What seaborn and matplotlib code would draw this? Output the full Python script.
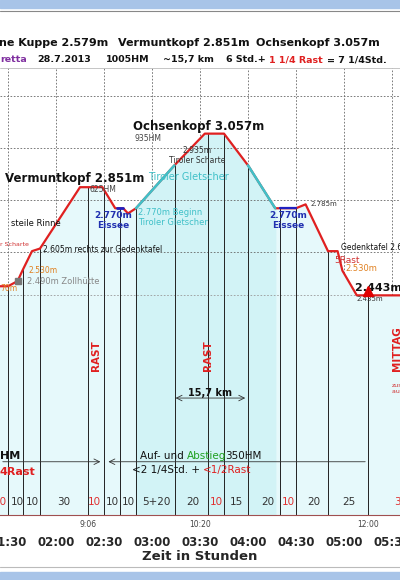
import numpy as np
import pandas as pd
import seaborn as sns
from matplotlib import pyplot as plt

# profile: minutes since 00:00 and elevation in m
prof_t = [85, 90, 96, 99, 105, 110, 135, 149, 157, 162, 165, 170, 194, 213, 225, 240, 257, 260, 270, 276, 290, 296, 299, 308, 335]
prof_e = [2470, 2470, 2490, 2530, 2605, 2615, 2851, 2851, 2770, 2770, 2750, 2770, 2935, 3057, 3057, 2935, 2770, 2770, 2770, 2785, 2605, 2605, 2530, 2435, 2435]

# waypoint stations (vertical lines)
stops = [90, 99.4, 110, 140, 150, 160, 170, 194.4, 215, 225, 240, 260, 270, 290, 315]

# segment durations along the bottom
seg_x = [85.5, 96, 105.5, 125, 144, 155.5, 165.5, 183, 205.5, 220.5, 233, 252.5, 265, 281, 303, 333.5]
seg_lbl = ["10", "10", "10", "30", "10", "10", "10", "5+20", "20", "10", "15", "20", "10", "20", "25", "3"]
seg_red = [True, False, False, False, True, False, False, False, False, True, False, False, True, False, False, True]

tick_t = [90, 120, 150, 180, 210, 240, 270, 300, 330]
tick_lbl = ["01:30", "02:00", "02:30", "03:00", "03:30", "04:00", "04:30", "05:00", "05:30"]

sns.set_style("white")
fig = plt.figure(figsize=(4, 5.8), dpi=100)
ax = fig.add_axes([0, 0.112, 1, 0.771])
ax.set_xlim(85, 335)
ax.set_ylim(1590, 3310)

df = pd.DataFrame({"t": prof_t, "e": prof_e})
ax.fill_between(df["t"], 1590, df["e"], color="#e6f9fb", zorder=0)
ax.fill_between(df["t"][11:17], 1590, df["e"][11:17], color="#d2f3f6", zorder=0)

# grid
for g in [2600, 2800, 3000, 3200]:
    ax.axhline(g, color="#666666", lw=0.6, ls=(0, (2, 2)), zorder=1)
for tt in tick_t:
    ax.plot([tt, tt], [np.interp(tt, prof_t, prof_e), 3310], color="#666666", lw=0.6, ls=(0, (2, 2)), zorder=1)
ax.axhline(2435, color="#999999", lw=0.6, ls=(0, (2, 2)), zorder=1)

for s in stops:
    ax.plot([s, s], [1590, np.interp(s, prof_t, prof_e)], color="#222222", lw=0.7, zorder=2)

sns.lineplot(data=df, x="t", y="e", color="#e02020", lw=1.6, ax=ax, zorder=3, sort=False)
sns.lineplot(x=prof_t[11:13], y=prof_e[11:13], color="#40c0c8", lw=1.8, ax=ax, zorder=4)
sns.lineplot(x=prof_t[15:17], y=prof_e[15:17], color="#40c0c8", lw=1.8, ax=ax, zorder=4)
ax.plot([158, 162], [2770, 2770], color="#2020c0", lw=2, zorder=5)
ax.plot([260, 270], [2770, 2770], color="#2020c0", lw=1.6, zorder=5)
ax.plot(315, 2450, marker="^", color="#e00000", ms=7, zorder=6)
ax.plot(96, 2492, marker="s", color="#777777", ms=5, zorder=6)

ax.set_xticks(tick_t)
ax.set_xticklabels(tick_lbl, fontsize=8.5, fontweight="bold")
ax.set_yticks([])
ax.set_xlabel("Zeit in Stunden", fontsize=9.5, fontweight="bold", labelpad=1)
ax.set_ylabel("")
ax.tick_params(axis="x", length=3, pad=12)
for sp in ["top", "left", "right"]:
    ax.spines[sp].set_visible(False)
ax.spines["bottom"].set_color("#a05050")

for x, l, r in zip(seg_x, seg_lbl, seg_red):
    ax.text(x, 1620, l, ha="center", va="bottom", fontsize=7.5, color="#e03030" if r else "#333333")
for x, l in [(140, "9:06"), (210, "10:20"), (315, "12:00")]:
    ax.text(x, 1570, l, ha="center", va="top", fontsize=5.5, color="#444444")

# texts in the plot
bk = dict(fontweight="bold", color="#111111")
ax.text(88, 2870, "Vermuntkopf 2.851m", fontsize=8.5, **bk)
ax.text(168, 3072, "Ochsenkopf 3.057m", fontsize=8.5, **bk)
ax.text(169, 3030, "935HM", fontsize=5.5, color="#444444")
ax.text(141, 2832, "625HM", fontsize=5.5, color="#444444")
ax.text(208, 2945, "2.935m\nTiroler Scharte", fontsize=5.5, ha="center", color="#333333", linespacing=1.1)
ax.text(203, 2880, "Tiroler Gletscher", fontsize=7, ha="center", color="#40c0c8")
ax.text(156, 2760, "2.770m\nEissee", fontsize=6.5, ha="center", va="top", color="#2030b0", fontweight="bold", linespacing=1.1)
ax.text(171, 2770, "2.770m Beginn\nTiroler Gletscher", fontsize=6, va="top", color="#40c0c8", linespacing=1.1)
ax.text(265, 2760, "2.770m\nEissee", fontsize=6.5, ha="center", va="top", color="#2030b0", fontweight="bold", linespacing=1.1)
ax.text(279, 2780, "2.785m", fontsize=5, color="#333333")
ax.text(92, 2700, "steile Rinne", fontsize=6, color="#111111")
ax.text(112, 2600, "2.605m rechts zur Gedenktafel", fontsize=5.5, color="#111111")
ax.text(103, 2520, "2.530m", fontsize=5.5, color="#e08020")
ax.text(102, 2480, "2.490m Zollhütte", fontsize=6, color="#888888")
ax.text(85, 2450, "70m", fontsize=5.5, color="#e08020")
ax.text(85, 2625, "r Scharte", fontsize=4.5, color="#d03030")
ax.text(298, 2610, "Gedenktafel 2.605m", fontsize=5.5, color="#111111")
ax.text(294, 2560, "5Rast", fontsize=6.5, color="#d03030")
ax.text(301, 2530, "2.530m", fontsize=6, color="#e08020")
ax.text(307, 2450, "2.443m W", fontsize=8, **bk)
ax.text(308, 2415, "2.435m", fontsize=5, color="#333333")
ax.text(145, 2150, "RAST", fontsize=7.5, rotation=90, ha="center", color="#e02020", fontweight="bold")
ax.text(215, 2150, "RAST", fontsize=7.5, rotation=90, ha="center", color="#e02020", fontweight="bold")
ax.text(333, 2150, "MITTAG", fontsize=7.5, rotation=90, ha="center", color="#e02020", fontweight="bold")
ax.text(330, 2060, "zusätzlich\nauf Gruppe", fontsize=4.5, color="#d03030", linespacing=1.1)
ax.annotate("", xy=(193, 2040), xytext=(240, 2040), arrowprops=dict(arrowstyle="<->", lw=0.6, color="#333333"))
ax.text(216, 2048, "15,7 km", fontsize=7, ha="center", fontweight="bold", color="#111111")
ax.annotate("", xy=(149.5, 1795), xytext=(85, 1795), arrowprops=dict(arrowstyle="->", lw=0.6, color="#333333"))
ax.annotate("", xy=(151, 1795), xytext=(315, 1795), arrowprops=dict(arrowstyle="->", lw=0.6, color="#333333"))
ax.text(85, 1805, "HM", fontsize=8, **bk)
ax.text(85, 1745, "4Rast", fontsize=8, color="#e02020", fontweight="bold")
ax.text(202, 1805, "Auf- und ", fontsize=7.5, ha="right", color="#111111")
ax.text(202, 1805, "Abstieg", fontsize=7.5, color="#20a020")
ax.text(226, 1805, "350HM", fontsize=7.5, color="#111111")
ax.text(212, 1750, "<2 1/4Std. + ", fontsize=7.5, ha="right", color="#111111")
ax.text(212, 1750, "<1/2Rast", fontsize=7.5, color="#e02020")

# header
fig.patches.append(plt.Rectangle((0, 0.986), 1, 0.014, transform=fig.transFigure, color="#a8c4e8"))
fig.patches.append(plt.Rectangle((0, 0), 1, 0.014, transform=fig.transFigure, color="#a8c4e8"))
fig.lines.append(plt.Line2D([0, 1], [0.981, 0.981], transform=fig.transFigure, color="#888888", lw=0.8))
fig.lines.append(plt.Line2D([0, 1], [0.022, 0.022], transform=fig.transFigure, color="#bbbbbb", lw=0.8))
fig.lines.append(plt.Line2D([0, 1], [0.883, 0.883], transform=fig.transFigure, color="#bbbbbb", lw=0.6))
fig.text(-0.003, 0.92, "ne Kuppe 2.579m", fontsize=8, **bk)
fig.text(0.295, 0.92, "Vermuntkopf 2.851m", fontsize=8, **bk)
fig.text(0.64, 0.92, "Ochsenkopf 3.057m", fontsize=8, **bk)
fig.text(0.0, 0.893, "retta", fontsize=6.8, color="#8030a0", fontweight="bold")
fig.text(0.092, 0.893, "28.7.2013", fontsize=6.8, **bk)
fig.text(0.265, 0.893, "1005HM", fontsize=6.8, **bk)
fig.text(0.408, 0.893, "~15,7 km", fontsize=6.8, **bk)
fig.text(0.565, 0.893, "6 Std.+", fontsize=6.8, **bk)
fig.text(0.673, 0.893, "1 1/4 Rast", fontsize=6.8, color="#e02020", fontweight="bold")
fig.text(0.818, 0.893, "= 7 1/4Std.", fontsize=6.8, **bk)

fig.savefig("out.png", dpi=100)
